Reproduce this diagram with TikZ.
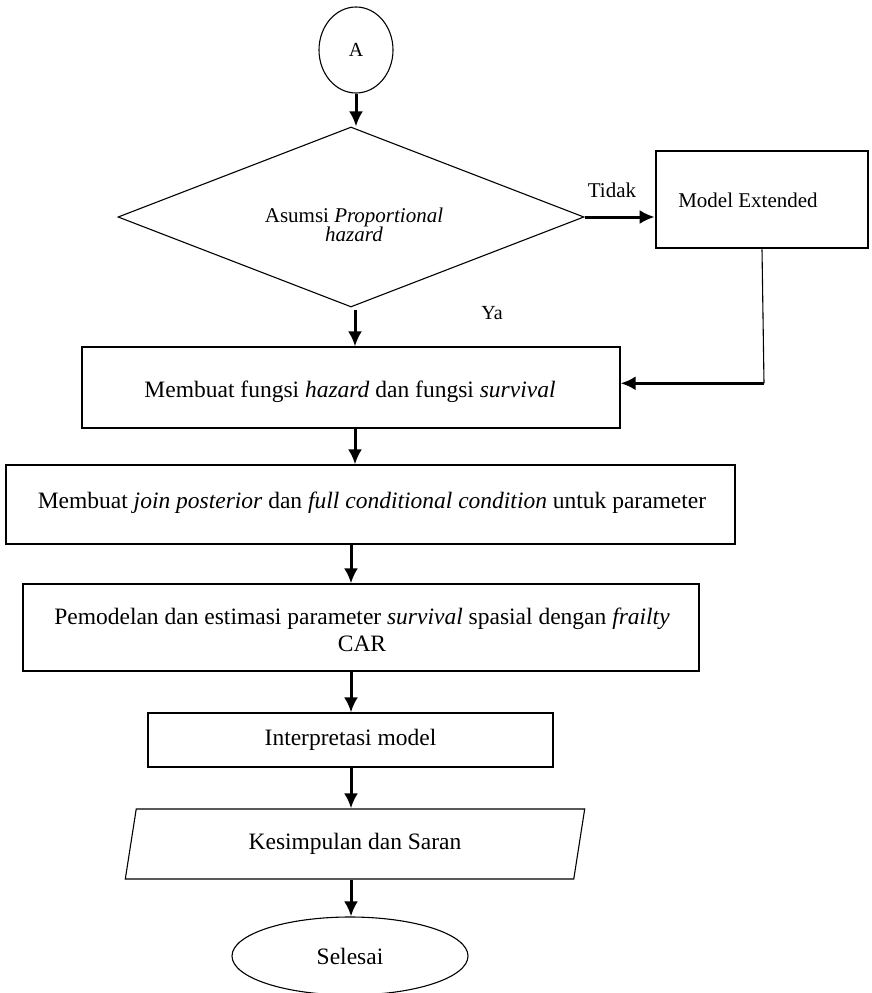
\documentclass[tikz,border=0pt]{standalone}
\usepackage{fontspec}
\setmainfont{Liberation Serif}
\usetikzlibrary{shapes.geometric,arrows.meta,calc}
\begin{document}
\begin{tikzpicture}[x=1pt,y=-1pt,
  boxfont/.style={font=\fontsize{23.5}{27}\selectfont},
  stepbox/.style={draw, line width=1.1pt, rectangle, inner sep=0pt, boxfont, align=center},
  arr/.style={line width=3pt, -{Latex[length=15pt,width=14pt]}},
  thinline/.style={line width=1.1pt}
]
\useasboundingbox (0,0) rectangle (871,993);

\node[draw, ellipse, line width=1.1pt, minimum width=74pt, minimum height=86pt, inner sep=0pt,
      font=\fontsize{20}{23}\selectfont] (A) at (356,50) {A};

\node[draw, diamond, line width=1.1pt, minimum width=466pt, minimum height=180pt, aspect=2.59,
      inner sep=0pt] (dec) at (351,217) {};
\node[font=\fontsize{21}{17}\selectfont, align=center] (dectext) at (354,225)
      {Asumsi \textit{Proportional}\\[-1pt]\textit{hazard}};

\node[draw, line width=2.6pt, minimum width=212pt, minimum height=97pt, inner sep=0pt] (me) at (762,199.5) {};
\node[font=\fontsize{21}{24}\selectfont] (metext) at (748,200) {Model Extended};

\node[stepbox, minimum width=538pt, minimum height=81pt] (b2) at (351,387.5) {};
\node[boxfont] (b2text) at (350,392) {Membuat fungsi \textit{hazard} dan fungsi \textit{survival}};

\node[stepbox, minimum width=729pt, minimum height=79pt] (b3) at (370.5,504.5) {};
\node[boxfont] (b3text) at (372,503) {Membuat \textit{join posterior} dan \textit{full conditional condition} untuk parameter};

\node[stepbox, minimum width=676pt, minimum height=87pt] (b4) at (361,627.5) {};
\node[boxfont, align=center] (b4text) at (362,630)
      {Pemodelan dan estimasi parameter \textit{survival} spasial dengan \textit{frailty}\\CAR};

\node[stepbox, minimum width=405pt, minimum height=54pt] (b5) at (350.5,740) {Interpretasi model};

\node[draw, trapezium, trapezium left angle=76, trapezium right angle=104, trapezium stretches=true,
      line width=1.1pt, minimum width=460pt, minimum height=70pt, inner sep=0pt, boxfont] (par) at (355,844)
      {Kesimpulan dan Saran};

\node[draw, ellipse, line width=1.1pt, minimum width=236pt, minimum height=78pt, inner sep=0pt, boxfont]
      (end) at (350,956) {Selesai};

\node[font=\fontsize{21}{24}\selectfont] (tidak) at (612,190) {Tidak};
\node[font=\fontsize{20}{23}\selectfont] (ya) at (492,313) {Ya};

% connectors
\coordinate (col) at (355,0);
\draw[arr] (A.south) -- (dec.north -| A.south);
\draw[arr] (dec.east) -- (me.west |- dec.east);
\draw[arr] ([yshift=-2pt]dec.south -| col) -- (b2.north -| col);
\coordinate (turn) at ($(me.south)+(2,134)$);
\draw[thinline] (me.south) -- (turn);
\draw[arr] (turn) -- (b2.east |- turn);
\draw[arr] (b2.south -| col) -- (b3.north -| col);
\draw[arr] (b3.south -| b2) -- (b4.north -| b2);
\draw[arr] (b4.south -| b2) -- (b5.north -| b2);
\draw[arr] (b5.south -| b2) -- (par.north -| b2);
\draw[arr] (par.south -| b2) -- (end.north -| b2);
\end{tikzpicture}
\end{document}
